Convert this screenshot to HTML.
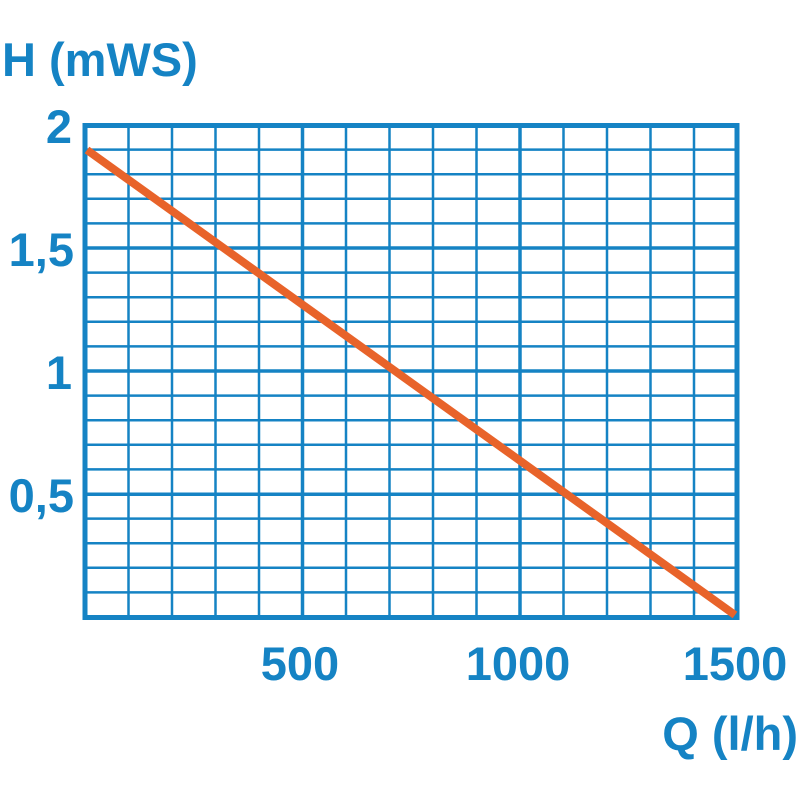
<!DOCTYPE html>
<html><head><style>
html,body{margin:0;padding:0;background:#fff;}
svg{display:block}
text{font-family:"Liberation Sans",sans-serif;font-weight:bold;fill:#1583c4;font-size:47px}
</style></head><body>
<svg width="800" height="800" viewBox="0 0 800 800">
<g stroke="#1583c4" stroke-width="2.5">
<!-- verticals -->
<line x1="128.5" y1="125" x2="128.5" y2="617"/>
<line x1="172" y1="125" x2="172" y2="617"/>
<line x1="215.5" y1="125" x2="215.5" y2="617"/>
<line x1="259" y1="125" x2="259" y2="617"/>
<line x1="346" y1="125" x2="346" y2="617"/>
<line x1="389.5" y1="125" x2="389.5" y2="617"/>
<line x1="433" y1="125" x2="433" y2="617"/>
<line x1="476.5" y1="125" x2="476.5" y2="617"/>
<line x1="563.5" y1="125" x2="563.5" y2="617"/>
<line x1="607" y1="125" x2="607" y2="617"/>
<line x1="650.5" y1="125" x2="650.5" y2="617"/>
<line x1="694" y1="125" x2="694" y2="617"/>
<!-- horizontals -->
<line x1="85" y1="149.6" x2="737" y2="149.6"/>
<line x1="85" y1="174.2" x2="737" y2="174.2"/>
<line x1="85" y1="198.8" x2="737" y2="198.8"/>
<line x1="85" y1="223.4" x2="737" y2="223.4"/>
<line x1="85" y1="272.6" x2="737" y2="272.6"/>
<line x1="85" y1="297.2" x2="737" y2="297.2"/>
<line x1="85" y1="321.8" x2="737" y2="321.8"/>
<line x1="85" y1="346.4" x2="737" y2="346.4"/>
<line x1="85" y1="395.6" x2="737" y2="395.6"/>
<line x1="85" y1="420.2" x2="737" y2="420.2"/>
<line x1="85" y1="444.8" x2="737" y2="444.8"/>
<line x1="85" y1="469.4" x2="737" y2="469.4"/>
<line x1="85" y1="518.6" x2="737" y2="518.6"/>
<line x1="85" y1="543.2" x2="737" y2="543.2"/>
<line x1="85" y1="567.8" x2="737" y2="567.8"/>
<line x1="85" y1="592.4" x2="737" y2="592.4"/>
</g>
<g stroke="#1583c4" stroke-width="3.5">
<line x1="302.5" y1="125" x2="302.5" y2="617"/>
<line x1="520" y1="125" x2="520" y2="617"/>
<line x1="85" y1="248" x2="737" y2="248"/>
<line x1="85" y1="371" x2="737" y2="371"/>
<line x1="85" y1="494.2" x2="737" y2="494.2"/>
</g>
<rect x="85" y="125.5" width="652" height="492" fill="none" stroke="#1583c4" stroke-width="5"/>
<line x1="87" y1="150" x2="735" y2="615" stroke="#e8632a" stroke-width="8"/>
<text x="2" y="76">H (mWS)</text>
<text x="72" y="143" text-anchor="end">2</text>
<text x="74" y="266" text-anchor="end">1,5</text>
<text x="72" y="389" text-anchor="end">1</text>
<text x="74" y="512" text-anchor="end">0,5</text>
<text x="300" y="680" text-anchor="middle">500</text>
<text x="518" y="680" text-anchor="middle">1000</text>
<text x="735" y="680" text-anchor="middle">1500</text>
<text x="798" y="750" text-anchor="end">Q (l/h)</text>
</svg>
</body></html>
